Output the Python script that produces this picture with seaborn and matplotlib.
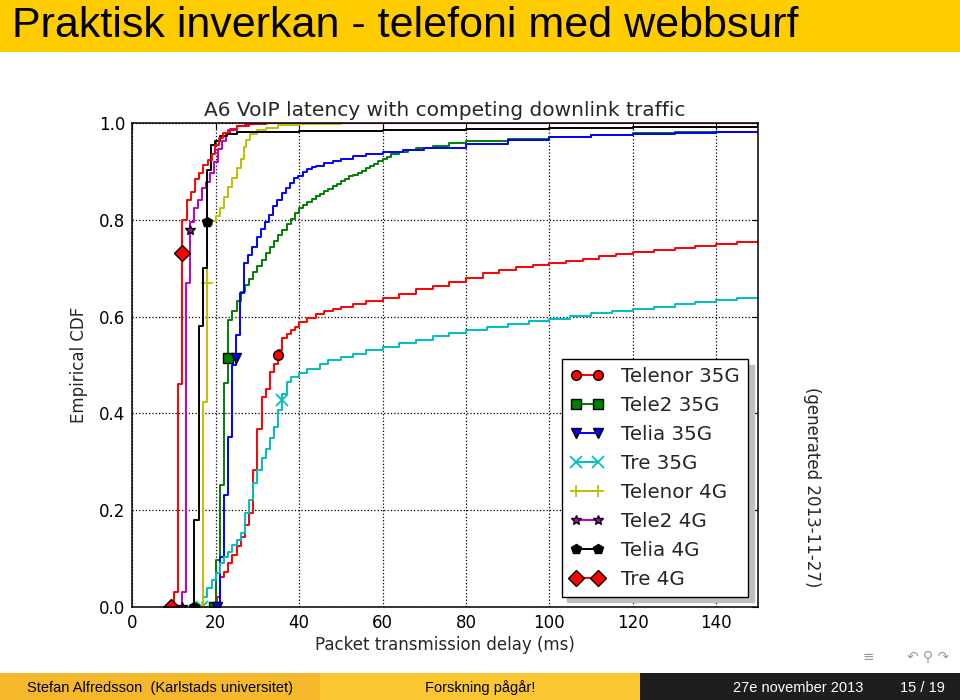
import numpy as np
import pandas as pd
import matplotlib
matplotlib.use("Agg")
import matplotlib.pyplot as plt
import seaborn as sns
from matplotlib.lines import Line2D
from matplotlib.patches import Rectangle

# ---------------- data ----------------
series_names = ["Telenor 35G", "Tele2 35G", "Telia 35G", "Tre 35G",
                "Telenor 4G", "Tele2 4G", "Telia 4G", "Tre 4G"]

telenor35_x = [19.8, 20.2, 21.0, 22.0, 23.0, 24.0, 25.0, 26.0, 27.0, 28.0, 29.0, 30.0,
               31.0, 32.0, 33.0, 34.0, 35.0, 35.0, 36.0, 37.0, 38.0, 39.0, 40.0, 42.0,
               44.0, 46.0, 48.0, 50.0, 53.0, 56.0, 60.0, 64.0, 68.0, 72.0, 76.0, 80.0,
               84.0, 88.0, 92.0, 96.0, 100.0, 104.0, 108.0, 112.0, 116.0, 120.0, 125.0,
               130.0, 135.0, 140.0, 145.0, 150.0]
telenor35_y = [0.0, 0.02, 0.062, 0.072, 0.09, 0.106, 0.125, 0.145, 0.169, 0.194, 0.283, 0.367,
               0.434, 0.451, 0.486, 0.503, 0.52, 0.53, 0.555, 0.565, 0.572, 0.579, 0.588, 0.597,
               0.606, 0.612, 0.616, 0.62, 0.626, 0.632, 0.638, 0.646, 0.657, 0.664, 0.672, 0.68,
               0.69, 0.697, 0.703, 0.707, 0.711, 0.716, 0.72, 0.725, 0.729, 0.733, 0.737,
               0.742, 0.746, 0.751, 0.754, 0.757]

tele235_x = [19.5, 20.0, 21.0, 22.0, 23.0, 23.0, 24.0, 25.0, 26.0, 27.0, 28.0, 29.0, 30.0,
             31.0, 32.0, 33.0, 34.0, 35.0, 36.0, 37.0, 38.0, 39.0, 40.0, 41.0, 42.0, 43.0,
             44.0, 45.0, 46.0, 47.0, 48.0, 49.0, 50.0, 51.0, 52.0, 53.0, 54.0, 55.0, 56.0,
             57.0, 58.0, 59.0, 60.0, 61.0, 62.0, 64.0, 66.0, 68.0, 72.0, 76.0, 80.0, 90.0,
             100.0, 110.0, 120.0, 130.0, 140.0, 150.0]
tele235_y = [0.0, 0.097, 0.252, 0.462, 0.515, 0.593, 0.612, 0.633, 0.650, 0.665, 0.678, 0.692,
             0.705, 0.718, 0.731, 0.744, 0.756, 0.768, 0.780, 0.792, 0.803, 0.814, 0.824, 0.831,
             0.837, 0.843, 0.849, 0.854, 0.859, 0.864, 0.870, 0.875, 0.880, 0.885, 0.890, 0.894,
             0.898, 0.902, 0.907, 0.911, 0.916, 0.921, 0.926, 0.931, 0.936, 0.941, 0.945, 0.949,
             0.954, 0.959, 0.963, 0.968, 0.972, 0.976, 0.979, 0.981, 0.983, 0.985]

telia35_x = [20.3, 21.0, 21.9, 22.9, 24.0, 24.8, 24.8, 25.8, 26.8, 27.8, 28.8, 29.8, 30.8,
             31.8, 32.8, 33.8, 34.8, 35.8, 36.8, 37.8, 38.8, 39.8, 41.0, 42.0, 43.0, 44.0,
             46.0, 48.0, 50.0, 53.0, 56.0, 60.0, 65.0, 70.0, 80.0, 90.0, 100.0, 110.0, 120.0,
             130.0, 140.0, 150.0]
telia35_y = [0.0, 0.103, 0.231, 0.352, 0.50, 0.514, 0.562, 0.648, 0.71, 0.727, 0.745, 0.765,
             0.782, 0.796, 0.81, 0.829, 0.841, 0.855, 0.867, 0.877, 0.886, 0.892, 0.900, 0.905,
             0.909, 0.912, 0.918, 0.923, 0.927, 0.932, 0.936, 0.940, 0.945, 0.949, 0.957, 0.965,
             0.971, 0.975, 0.978, 0.980, 0.982, 0.984]

tre35_x = [16.8, 17.0, 18.0, 19.0, 20.0, 21.0, 22.0, 23.0, 24.0, 25.0, 26.0, 27.0, 28.0, 29.0,
           30.0, 31.0, 32.0, 33.0, 34.0, 35.0, 36.0, 36.0, 37.0, 38.0, 40.0, 42.0, 45.0, 47.0,
           50.0, 53.0, 56.0, 60.0, 64.0, 68.0, 72.0, 76.0, 80.0, 85.0, 90.0, 95.0, 100.0, 105.0,
           110.0, 115.0, 120.0, 125.0, 130.0, 135.0, 140.0, 145.0, 150.0]
tre35_y = [0.0, 0.021, 0.038, 0.055, 0.069, 0.09, 0.103, 0.114, 0.128, 0.138, 0.153, 0.193,
           0.221, 0.255, 0.283, 0.307, 0.327, 0.348, 0.372, 0.407, 0.427, 0.44, 0.465, 0.475,
           0.484, 0.492, 0.503, 0.51, 0.516, 0.523, 0.53, 0.538, 0.545, 0.552, 0.559, 0.566,
           0.572, 0.578, 0.584, 0.59, 0.596, 0.602, 0.607, 0.611, 0.615, 0.62, 0.626, 0.631,
           0.634, 0.638, 0.641]

telenor4_x = [16.8, 17.0, 18.0, 18.0, 19.0, 20.0, 21.0, 22.0, 23.0, 24.0, 25.0, 26.0, 26.7,
              27.3, 28.2, 29.8, 32.0, 35.0, 40.0, 50.0, 150.0]
telenor4_y = [0.0, 0.424, 0.669, 0.789, 0.797, 0.808, 0.825, 0.848, 0.869, 0.886, 0.907, 0.927,
              0.951, 0.965, 0.978, 0.986, 0.991, 0.996, 0.999, 1.0, 1.0]

tele24_x = [11.9, 12.0, 12.9, 13.8, 13.8, 14.8, 15.8, 16.8, 17.6, 18.6, 19.6, 20.6, 21.4,
            22.4, 23.4, 25.0, 27.0, 30.0, 150.0]
tele24_y = [0.0, 0.031, 0.67, 0.78, 0.796, 0.825, 0.842, 0.866, 0.878, 0.897, 0.92, 0.947,
            0.963, 0.977, 0.988, 0.994, 0.998, 1.0, 1.0]

telia4_x = [14.8, 14.8, 16.0, 16.9, 18.0, 18.0, 18.8, 19.8, 21.0, 22.6, 25.0, 30.0, 40.0,
            60.0, 80.0, 100.0, 120.0, 150.0]
telia4_y = [0.0, 0.18, 0.58, 0.70, 0.796, 0.903, 0.955, 0.964, 0.973, 0.978, 0.981, 0.983,
            0.985, 0.987, 0.989, 0.991, 0.993, 0.996]

tre4_x = [9.3, 10.1, 11.0, 12.0, 12.0, 13.0, 14.0, 15.0, 16.1, 17.0, 18.1, 19.0, 19.8, 20.9,
          21.8, 23.0, 25.0, 28.0, 32.0, 150.0]
tre4_y = [0.0, 0.03, 0.46, 0.731, 0.80, 0.841, 0.858, 0.884, 0.898, 0.913, 0.925, 0.937,
          0.955, 0.969, 0.979, 0.987, 0.995, 0.999, 1.0, 1.0]

# CDF level of the second marker on each curve (a point that lies in the data)
marker_level = [0.52, 0.515, 0.514, 0.427, 0.669, 0.78, 0.796, 0.731]

xs = [telenor35_x, tele235_x, telia35_x, tre35_x, telenor4_x, tele24_x, telia4_x, tre4_x]
ys = [telenor35_y, tele235_y, telia35_y, tre35_y, telenor4_y, tele24_y, telia4_y, tre4_y]

x_ticks = [0, 20, 40, 60, 80, 100, 120, 140]
y_ticks = [0.0, 0.2, 0.4, 0.6, 0.8, 1.0]

# ---------------- styles ----------------
colors = ["#ff0000", "#008000", "#0000ff", "#00bfbf", "#bfbf00", "#bf00bf", "#000000", "#ff0000"]
markers = ["o", "s", "v", "x", "+", "*", "p", "D"]
msizes = [7, 7, 7.5, 8, 9, 7, 7, 8]

sns.set_style("white")
plt.rcParams["font.family"] = ["DejaVu Sans"]

fig = plt.figure(figsize=(9.6, 7.0), dpi=100)

# slide decoration
fig.add_artist(Rectangle((0, 1 - 52 / 700), 1, 52 / 700, transform=fig.transFigure,
                         facecolor="#ffcc00", edgecolor="none", zorder=0))
fig.text(12 / 960, 1 - 37 / 700, "Praktisk inverkan - telefoni med webbsurf",
         family=["Liberation Sans", "DejaVu Sans"], fontsize=31, color="black",
         ha="left", va="baseline")

fb = 27 / 700
fig.add_artist(Rectangle((0, 0), 1 / 3, fb, transform=fig.transFigure,
                         facecolor="#f5b82c", edgecolor="none", zorder=0))
fig.add_artist(Rectangle((1 / 3, 0), 1 / 3, fb, transform=fig.transFigure,
                         facecolor="#fac632", edgecolor="none", zorder=0))
fig.add_artist(Rectangle((2 / 3, 0), 1 / 3, fb, transform=fig.transFigure,
                         facecolor="#1e1e1e", edgecolor="none", zorder=0))
ffam = ["Liberation Sans", "DejaVu Sans"]
fig.text(160 / 960, 12 / 700, "Stefan Alfredsson  (Karlstads universitet)", family=ffam,
         fontsize=10.5, ha="center", va="center", color="black")
fig.text(480 / 960, 12 / 700, "Forskning pågår!", family=ffam,
         fontsize=10.5, ha="center", va="center", color="black")
fig.text(798 / 960, 12 / 700, "27e november 2013", family=ffam,
         fontsize=10.5, ha="center", va="center", color="white")
fig.text(945 / 960, 12 / 700, "15 / 19", family=ffam,
         fontsize=10.5, ha="right", va="center", color="white")
fig.text(868 / 960, 1 - 657 / 700, "≡", fontsize=10, color="#9a9a9a", ha="center", va="center")
fig.text(928 / 960, 1 - 657 / 700, "↶ ⚲ ↷", fontsize=10, color="#9a9a9a",
         family=["DejaVu Sans"], ha="center", va="center")

# chart axes
ax = fig.add_axes([132.3 / 960, 1 - 606.7 / 700, (758 - 132.3) / 960, (606.7 - 123.3) / 700])

handles = []
for name, x, y, c, m, ms, lvl in zip(series_names, xs, ys, colors, markers, msizes, marker_level):
    df = pd.DataFrame({"delay": x, "cdf": y})
    k = y.index(lvl)
    line_marker_edge = c if m in ("x", "+") else "black"
    mew = 1.0 if m not in ("x", "+") else 1.3
    sns.lineplot(data=df, x="delay", y="cdf", ax=ax, estimator=None, sort=False,
                 color=c, linewidth=1.4, drawstyle="steps-post",
                 marker=m, markevery=[0, k], markersize=ms,
                 markerfacecolor=c, markeredgecolor=line_marker_edge,
                 markeredgewidth=mew, legend=False)
    handles.append(Line2D([0], [0], color=c, linewidth=1.4, marker=m, markersize=ms,
                          markerfacecolor=c, markeredgecolor=line_marker_edge,
                          markeredgewidth=mew, label=name))

ax.set_xlim(0, 150)
ax.set_ylim(0, 1.0)
ax.set_xticks(x_ticks)
ax.set_yticks(y_ticks)
ax.set_xticklabels([str(t) for t in x_ticks])
ax.set_yticklabels([f"{t:.1f}" for t in y_ticks])
ax.grid(True, color="black", linestyle=":", linewidth=0.9)
ax.tick_params(axis="both", which="major", direction="in", length=4, width=0.8,
               top=True, right=True, labelsize=12, pad=5, colors="black")
for s in ax.spines.values():
    s.set_color("black")
    s.set_linewidth(1.1)
    s.set_visible(True)

ax.set_xlabel("Packet transmission delay (ms)", fontsize=12, labelpad=3)
ax.set_ylabel("Empirical CDF", fontsize=12, labelpad=8)
ax.set_title("A6 VoIP latency with competing downlink traffic", fontsize=14.5, pad=5)

leg = ax.legend(handles=handles, loc="lower right", numpoints=2, fontsize=14.3,
                frameon=True, fancybox=False, edgecolor="black", framealpha=1.0,
                shadow={"ox": 4, "oy": -4, "color": "0.75", "alpha": 1.0},
                labelspacing=0.5, handlelength=1.7, handletextpad=0.9,
                borderaxespad=0.5, borderpad=0.4)
leg.get_frame().set_linewidth(1.0)

fig.text(812 / 960, 1 - 487 / 700, "(generated 2013-11-27)", rotation=270,
         fontsize=12, ha="center", va="center")

fig.savefig("out.png", dpi=100, facecolor="white")
